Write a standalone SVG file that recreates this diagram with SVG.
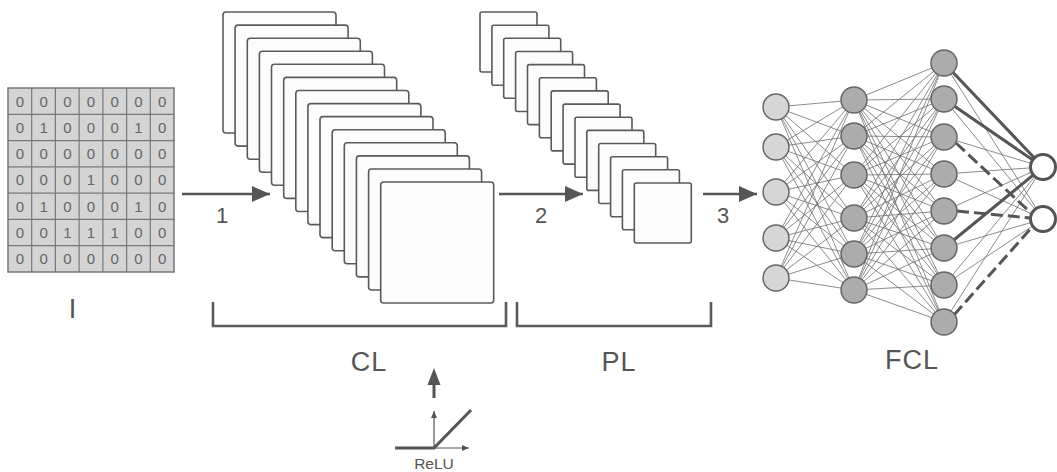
<svg xmlns="http://www.w3.org/2000/svg" width="1057" height="472" viewBox="0 0 1057 472">
  <style>
    .txt { font-family: "Liberation Sans", Arial, sans-serif; fill: #555; }
    .lbl { font-size: 27px; text-anchor: middle; letter-spacing: 1px; }
    .num { font-size: 22px; text-anchor: middle; }
    .cell { font-size: 15px; text-anchor: middle; fill: #666; }
    .sheet { fill: #fcfcfc; stroke: #5a5a5a; stroke-width: 1.6; }
    .brk { fill: none; stroke: #5a5a5a; stroke-width: 2.6; }
    .flow { fill: none; stroke: #555; stroke-width: 2.5; }
    .thin { fill: none; stroke: #6e6e6e; stroke-width: 0.8; }
    .bold { fill: none; stroke: #555; stroke-width: 3; }
    .dash { fill: none; stroke: #555; stroke-width: 3; stroke-dasharray: 12 5; }
    .n1 { fill: #d6d6d6; stroke: #666; stroke-width: 1.5; }
    .n2 { fill: #acacac; stroke: #666; stroke-width: 1.5; }
    .out { fill: #fff; stroke: #555; stroke-width: 3; }
  </style>
  <defs>
    <marker id="head" markerUnits="userSpaceOnUse" markerWidth="18" markerHeight="16" refX="18" refY="8" orient="auto">
      <path d="M0,0 L18,8 L0,16 z" fill="#555"/>
    </marker>
    <marker id="headSmall" markerUnits="userSpaceOnUse" markerWidth="7" markerHeight="6" refX="7" refY="3" orient="auto">
      <path d="M0,0 L7,3 L0,6 z" fill="#555"/>
    </marker>
  </defs>

  <rect width="1057" height="472" fill="#fff"/>

  <!-- input image matrix -->
  <g id="input">
    <rect x="8" y="88" width="166" height="184" fill="#d4d4d4" stroke="#777" stroke-width="1.5"/>
    <path d="M31.7 88V272M55.4 88V272M79.1 88V272M102.9 88V272M126.6 88V272M150.3 88V272M8 114.3H174M8 140.6H174M8 166.9H174M8 193.1H174M8 219.4H174M8 245.7H174" stroke="#777" stroke-width="1.2" fill="none"/>
    <g class="txt cell">
      <text x="19.9" y="106.5">0</text><text x="43.6" y="106.5">0</text><text x="67.3" y="106.5">0</text><text x="91" y="106.5">0</text><text x="114.7" y="106.5">0</text><text x="138.4" y="106.5">0</text><text x="162.1" y="106.5">0</text>
      <text x="19.9" y="132.8">0</text><text x="43.6" y="132.8">1</text><text x="67.3" y="132.8">0</text><text x="91" y="132.8">0</text><text x="114.7" y="132.8">0</text><text x="138.4" y="132.8">1</text><text x="162.1" y="132.8">0</text>
      <text x="19.9" y="159.1">0</text><text x="43.6" y="159.1">0</text><text x="67.3" y="159.1">0</text><text x="91" y="159.1">0</text><text x="114.7" y="159.1">0</text><text x="138.4" y="159.1">0</text><text x="162.1" y="159.1">0</text>
      <text x="19.9" y="185.4">0</text><text x="43.6" y="185.4">0</text><text x="67.3" y="185.4">0</text><text x="91" y="185.4">1</text><text x="114.7" y="185.4">0</text><text x="138.4" y="185.4">0</text><text x="162.1" y="185.4">0</text>
      <text x="19.9" y="211.7">0</text><text x="43.6" y="211.7">1</text><text x="67.3" y="211.7">0</text><text x="91" y="211.7">0</text><text x="114.7" y="211.7">0</text><text x="138.4" y="211.7">1</text><text x="162.1" y="211.7">0</text>
      <text x="19.9" y="238">0</text><text x="43.6" y="238">0</text><text x="67.3" y="238">1</text><text x="91" y="238">1</text><text x="114.7" y="238">1</text><text x="138.4" y="238">0</text><text x="162.1" y="238">0</text>
      <text x="19.9" y="264.3">0</text><text x="43.6" y="264.3">0</text><text x="67.3" y="264.3">0</text><text x="91" y="264.3">0</text><text x="114.7" y="264.3">0</text><text x="138.4" y="264.3">0</text><text x="162.1" y="264.3">0</text>
    </g>
    <text class="txt lbl" x="73" y="318">I</text>
  </g>

  <!-- convolution layer feature maps -->
  <g id="conv">
    <rect class="sheet" x="223" y="12" width="113" height="121" rx="3"/>
    <rect class="sheet" x="235.1" y="25.1" width="113" height="121" rx="3"/>
    <rect class="sheet" x="247.3" y="38.2" width="113" height="121" rx="3"/>
    <rect class="sheet" x="259.4" y="51.2" width="113" height="121" rx="3"/>
    <rect class="sheet" x="271.5" y="64.3" width="113" height="121" rx="3"/>
    <rect class="sheet" x="283.7" y="77.4" width="113" height="121" rx="3"/>
    <rect class="sheet" x="295.8" y="90.5" width="113" height="121" rx="3"/>
    <rect class="sheet" x="307.9" y="103.6" width="113" height="121" rx="3"/>
    <rect class="sheet" x="320" y="116.6" width="113" height="121" rx="3"/>
    <rect class="sheet" x="332.2" y="129.7" width="113" height="121" rx="3"/>
    <rect class="sheet" x="344.3" y="142.8" width="113" height="121" rx="3"/>
    <rect class="sheet" x="356.4" y="155.9" width="113" height="121" rx="3"/>
    <rect class="sheet" x="368.6" y="169" width="113" height="121" rx="3"/>
    <rect class="sheet" x="380.7" y="182" width="113" height="121" rx="3"/>
    <path class="brk" d="M213 302V326H506V302"/>
    <text class="txt lbl" x="369" y="371">CL</text>
  </g>

  <!-- pooling layer maps -->
  <g id="pool">
    <rect class="sheet" x="480" y="12" width="57" height="60" rx="2"/>
    <rect class="sheet" x="491.9" y="25.2" width="57" height="60" rx="2"/>
    <rect class="sheet" x="503.7" y="38.3" width="57" height="60" rx="2"/>
    <rect class="sheet" x="515.6" y="51.5" width="57" height="60" rx="2"/>
    <rect class="sheet" x="527.5" y="64.6" width="57" height="60" rx="2"/>
    <rect class="sheet" x="539.4" y="77.8" width="57" height="60" rx="2"/>
    <rect class="sheet" x="551.2" y="90.9" width="57" height="60" rx="2"/>
    <rect class="sheet" x="563.1" y="104.1" width="57" height="60" rx="2"/>
    <rect class="sheet" x="575" y="117.2" width="57" height="60" rx="2"/>
    <rect class="sheet" x="586.8" y="130.4" width="57" height="60" rx="2"/>
    <rect class="sheet" x="598.7" y="143.5" width="57" height="60" rx="2"/>
    <rect class="sheet" x="610.6" y="156.7" width="57" height="60" rx="2"/>
    <rect class="sheet" x="622.4" y="169.8" width="57" height="60" rx="2"/>
    <rect class="sheet" x="634.3" y="183" width="57" height="60" rx="2"/>
    <path class="brk" d="M517 302V326H711V302"/>
    <text class="txt lbl" x="619" y="371">PL</text>
  </g>

  <!-- ReLU activation -->
  <g id="relu">
    <path d="M434 398V383" fill="none" stroke="#555" stroke-width="3"/>
    <path d="M434 368L440.5 385H427.5z" fill="#555"/>
    <path d="M434 448V411" fill="none" stroke="#555" stroke-width="1.2" marker-end="url(#headSmall)"/>
    <path d="M395 448H469" fill="none" stroke="#555" stroke-width="1.2" marker-end="url(#headSmall)"/>
    <path d="M395 448H434L471 410" fill="none" stroke="#555" stroke-width="3"/>
    <text class="txt" x="434" y="469" font-size="15.5" text-anchor="middle">ReLU</text>
  </g>

  <!-- flow arrows between stages -->
  <g id="connectors">
    <path class="flow" d="M182 194H270" marker-end="url(#head)"/>
    <path class="flow" d="M499 194H583" marker-end="url(#head)"/>
    <path class="flow" d="M703 194H757" marker-end="url(#head)"/>
    <text class="txt num" x="222" y="223">1</text>
    <text class="txt num" x="541" y="223">2</text>
    <text class="txt num" x="723" y="223">3</text>

    <!-- dense links, layer 1 to layer 2 -->
    <path class="thin" d="M776 107L854 100M776 107L854 136M776 107L854 175M776 107L854 218M776 107L854 254M776 107L854 290
      M776 147L854 100M776 147L854 136M776 147L854 175M776 147L854 218M776 147L854 254M776 147L854 290
      M776 192L854 100M776 192L854 136M776 192L854 175M776 192L854 218M776 192L854 254M776 192L854 290
      M776 238L854 100M776 238L854 136M776 238L854 175M776 238L854 218M776 238L854 254M776 238L854 290
      M776 278L854 100M776 278L854 136M776 278L854 175M776 278L854 218M776 278L854 254M776 278L854 290"/>
    <!-- dense links, layer 2 to layer 3 -->
    <path class="thin" d="M854 100L944 63M854 100L944 99M854 100L944 137M854 100L944 174M854 100L944 211M854 100L944 248M854 100L944 285M854 100L944 322
      M854 136L944 63M854 136L944 99M854 136L944 137M854 136L944 174M854 136L944 211M854 136L944 248M854 136L944 285M854 136L944 322
      M854 175L944 63M854 175L944 99M854 175L944 137M854 175L944 174M854 175L944 211M854 175L944 248M854 175L944 285M854 175L944 322
      M854 218L944 63M854 218L944 99M854 218L944 137M854 218L944 174M854 218L944 211M854 218L944 248M854 218L944 285M854 218L944 322
      M854 254L944 63M854 254L944 99M854 254L944 137M854 254L944 174M854 254L944 211M854 254L944 248M854 254L944 285M854 254L944 322
      M854 290L944 63M854 290L944 99M854 290L944 137M854 290L944 174M854 290L944 211M854 290L944 248M854 290L944 285M854 290L944 322"/>
    <!-- layer 3 to outputs -->
    <path class="thin" d="M944 63L1043 219M944 99L1043 219M944 137L1043 167M944 174L1043 167M944 174L1043 219M944 211L1043 167M944 248L1043 219M944 285L1043 167M944 285L1043 219M944 322L1043 167"/>
    <path class="bold" d="M944 63L1043 167M944 99L1043 167M944 248L1043 167"/>
    <path class="dash" d="M956 143L1031 213M957 211L1030 218M954 315L1033 226"/>
  </g>

  <!-- fully connected layer -->
  <g id="fcl">
    <circle class="n1" cx="776" cy="107" r="13"/>
    <circle class="n1" cx="776" cy="147" r="13"/>
    <circle class="n1" cx="776" cy="192" r="13"/>
    <circle class="n1" cx="776" cy="238" r="13"/>
    <circle class="n1" cx="776" cy="278" r="13"/>
    <circle class="n2" cx="854" cy="100" r="13"/>
    <circle class="n2" cx="854" cy="136" r="13"/>
    <circle class="n2" cx="854" cy="175" r="13"/>
    <circle class="n2" cx="854" cy="218" r="13"/>
    <circle class="n2" cx="854" cy="254" r="13"/>
    <circle class="n2" cx="854" cy="290" r="13"/>
    <circle class="n2" cx="944" cy="63" r="13"/>
    <circle class="n2" cx="944" cy="99" r="13"/>
    <circle class="n2" cx="944" cy="137" r="13"/>
    <circle class="n2" cx="944" cy="174" r="13"/>
    <circle class="n2" cx="944" cy="211" r="13"/>
    <circle class="n2" cx="944" cy="248" r="13"/>
    <circle class="n2" cx="944" cy="285" r="13"/>
    <circle class="n2" cx="944" cy="322" r="13"/>
    <circle class="out" cx="1043" cy="167" r="12.5"/>
    <circle class="out" cx="1043" cy="219" r="12.5"/>
    <text class="txt lbl" x="912" y="369">FCL</text>
  </g>
</svg>
